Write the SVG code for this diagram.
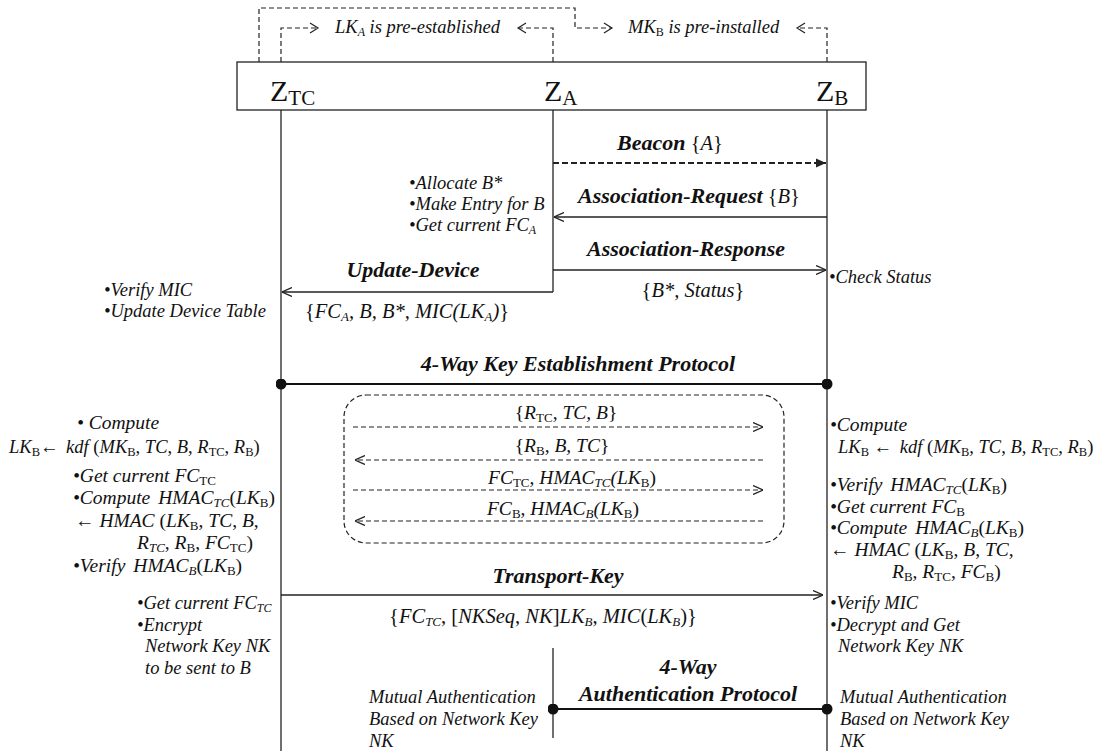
<svg xmlns="http://www.w3.org/2000/svg" width="1099" height="751" viewBox="0 0 1099 751">
<style>
text{font-family:"Liberation Serif","Times New Roman",serif;fill:#111}
.b{font-weight:bold;font-style:italic;font-size:22px}
.i{font-style:italic}
.n{font-style:italic;font-size:18.5px}
.m{font-size:20.5px}
.s{font-size:19.5px}
.k{font-size:18.5px}
.sub{font-style:normal}
.ln{stroke:#222;stroke-width:1.3;fill:none}
.ds{stroke:#222;stroke-width:1.2;fill:none;stroke-dasharray:5,3}
</style>
<defs>
<marker id="open" viewBox="0 0 10 10" refX="10" refY="5" markerWidth="10" markerHeight="10" markerUnits="userSpaceOnUse" orient="auto-start-reverse">
<path d="M0,0.5 L10,5 L0,9.5" fill="none" stroke="#222" stroke-width="1.3"/>
</marker>
<marker id="filled" viewBox="0 0 10 10" refX="10" refY="5" markerWidth="12" markerHeight="10" markerUnits="userSpaceOnUse" orient="auto">
<path d="M0,0.5 L10,5 L0,9.5 Z" fill="#222"/>
</marker>
<marker id="dot" viewBox="0 0 10 10" refX="5" refY="5" markerWidth="11" markerHeight="11" markerUnits="userSpaceOnUse">
<circle cx="5" cy="5" r="5" fill="#111"/>
</marker>
</defs>

<g id="preestablished">
<path class="ds" d="M259,62 V8 H575 V28 H612"/>
<path class="ds" d="M281,62 V28 H318"/>
<path class="ds" d="M553,62 V28 H518"/>
<path class="ds" d="M827,62 V28 H797"/>
<path d="M310,23 L318,28 L310,33 M526,23 L518,28 L526,33 M604,23 L612,28 L604,33 M805,23 L797,28 L805,33" fill="none" stroke="#222" stroke-width="1.2"/>
<text x="335" y="33" class="n">LK<tspan font-size="12" dy="3">A</tspan><tspan dy="-3"> is pre-established</tspan></text>
<text x="628" y="33" class="n">MK<tspan font-size="12" dy="3" class="sub">B</tspan><tspan dy="-3"> is pre-installed</tspan></text>
</g>

<g id="header">
<rect x="237" y="62" width="629" height="48" fill="#fff" stroke="#222" stroke-width="1.3"/>
<text x="270" y="101" font-size="30">Z<tspan font-size="21" dy="4">TC</tspan></text>
<text x="544" y="101" font-size="30">Z<tspan font-size="21" dy="4">A</tspan></text>
<text x="816" y="101" font-size="30">Z<tspan font-size="21" dy="4">B</tspan></text>
</g>

<g id="lifelines">
<line class="ln" x1="281" y1="110" x2="281" y2="751"/>
<line class="ln" x1="553" y1="110" x2="553" y2="292"/>
<line class="ln" x1="553" y1="648" x2="553" y2="738"/>
<line class="ln" x1="827" y1="110" x2="827" y2="751"/>
</g>

<g id="connectors">
<line x1="553" y1="163" x2="826" y2="163" stroke="#222" stroke-width="2" stroke-dasharray="6,3" marker-end="url(#filled)"/>
<line class="ln" x1="827" y1="217" x2="554" y2="217" marker-end="url(#open)"/>
<line class="ln" x1="553" y1="270" x2="826" y2="270" marker-end="url(#open)"/>
<line class="ln" x1="553" y1="292" x2="282" y2="292" marker-end="url(#open)"/>
<line x1="281" y1="384" x2="827" y2="384" stroke="#111" stroke-width="2.2" marker-start="url(#dot)" marker-end="url(#dot)"/>
<line class="ds" x1="353" y1="427" x2="763" y2="427" marker-end="url(#open)"/>
<line class="ds" x1="763" y1="460" x2="355" y2="460" marker-end="url(#open)"/>
<line class="ds" x1="353" y1="490" x2="763" y2="490" marker-end="url(#open)"/>
<line class="ds" x1="763" y1="521" x2="355" y2="521" marker-end="url(#open)"/>
<line class="ln" x1="281" y1="595" x2="823" y2="595" marker-end="url(#open)"/>
<line x1="553" y1="709" x2="827" y2="709" stroke="#111" stroke-width="2.2" marker-start="url(#dot)" marker-end="url(#dot)"/>
</g>

<g id="kex-box">
<rect x="344" y="395" width="440" height="148" rx="22" class="ds"/>
</g>

<g id="beacon">
<text x="670" y="150" text-anchor="middle"><tspan class="b">Beacon</tspan><tspan class="m"> {<tspan class="i">A</tspan>}</tspan></text>
</g>
<g id="assoc-req">
<text x="689" y="203" text-anchor="middle"><tspan class="b">Association-Request</tspan><tspan class="m"> {<tspan class="i">B</tspan>}</tspan></text>
</g>
<g id="assoc-resp">
<text x="686" y="256" text-anchor="middle" class="b">Association-Response</text>
<text x="693" y="297" text-anchor="middle" class="m">{<tspan class="i">B*, Status</tspan>}</text>
</g>
<g id="update-device">
<text x="413" y="277" text-anchor="middle" class="b">Update-Device</text>
<text x="407" y="318" text-anchor="middle" class="m">{<tspan class="i">FC<tspan font-size="13" dy="3">A</tspan><tspan dy="-3">, B, B*, MIC(LK</tspan><tspan font-size="13" dy="3">A</tspan><tspan dy="-3">)</tspan></tspan>}</text>
</g>
<g id="za-notes">
<text x="409" y="189" class="n">•Allocate B*</text>
<text x="409" y="210" class="n">•Make Entry for B</text>
<text x="409" y="231" class="n">•Get current FC<tspan font-size="12" dy="3">A</tspan></text>
</g>
<g id="ztc-notes1">
<text x="104" y="296" class="n">•Verify MIC</text>
<text x="104" y="317" class="n">•Update Device Table</text>
</g>
<g id="zb-notes1">
<text x="829" y="283" class="n">•Check Status</text>
</g>

<g id="kex-label">
<text x="578" y="371" text-anchor="middle" class="b">4-Way Key Establishment Protocol</text>
</g>

<g id="kex-messages">
<text x="566" y="419" text-anchor="middle" class="s">{<tspan class="i">R</tspan><tspan font-size="13" dy="3">TC</tspan><tspan dy="-3">, </tspan><tspan class="i">TC, B</tspan>}</text>
<text x="562" y="452" text-anchor="middle" class="s">{<tspan class="i">R</tspan><tspan font-size="13" dy="3">B</tspan><tspan dy="-3">, </tspan><tspan class="i">B, TC</tspan>}</text>
<text x="572" y="484" text-anchor="middle" class="s"><tspan class="i">FC</tspan><tspan font-size="13" dy="3">TC</tspan><tspan dy="-3">, </tspan><tspan class="i">HMAC</tspan><tspan font-size="13" dy="3" class="i">TC</tspan><tspan dy="-3" class="i">(LK</tspan><tspan font-size="13" dy="3">B</tspan><tspan dy="-3">)</tspan></text>
<text x="563" y="515" text-anchor="middle" class="s"><tspan class="i">FC</tspan><tspan font-size="13" dy="3">B</tspan><tspan dy="-3">, </tspan><tspan class="i">HMAC</tspan><tspan font-size="13" dy="3" class="i">B</tspan><tspan dy="-3" class="i">(LK</tspan><tspan font-size="13" dy="3">B</tspan><tspan dy="-3">)</tspan></text>
</g>

<g id="ztc-notes2">
<text x="77" y="429" class="s i">• Compute</text>
<text x="9" y="453" class="k"><tspan class="i">LK</tspan><tspan font-size="12.5" dy="3">B</tspan><tspan dy="-3">← </tspan><tspan class="i" dx="3">kdf</tspan> (<tspan class="i">MK</tspan><tspan font-size="12.5" dy="3">B</tspan><tspan dy="-3">, </tspan><tspan class="i">TC</tspan>, <tspan class="i">B</tspan>, <tspan class="i">R</tspan><tspan font-size="12.5" dy="3">TC</tspan><tspan dy="-3">, </tspan><tspan class="i">R</tspan><tspan font-size="12.5" dy="3">B</tspan><tspan dy="-3">)</tspan></text>
<text x="73" y="482" class="s i">•Get current FC<tspan font-size="13" dy="3" class="sub">TC</tspan></text>
<text x="73" y="504" class="s"><tspan class="i">•Compute</tspan><tspan class="i" dx="8">HMAC</tspan><tspan font-size="13" dy="3" class="i">TC</tspan><tspan dy="-3">(</tspan><tspan class="i">LK</tspan><tspan font-size="13" dy="3">B</tspan><tspan dy="-3">)</tspan></text>
<text x="75" y="527" class="s">← <tspan class="i">HMAC</tspan> (<tspan class="i">LK</tspan><tspan font-size="13" dy="3">B</tspan><tspan dy="-3">, </tspan><tspan class="i">TC</tspan>, <tspan class="i">B</tspan>,</text>
<text x="137" y="549" class="s"><tspan class="i">R</tspan><tspan font-size="13" dy="3" class="i">TC</tspan><tspan dy="-3">, </tspan><tspan class="i">R</tspan><tspan font-size="13" dy="3">B</tspan><tspan dy="-3">, </tspan><tspan class="i">FC</tspan><tspan font-size="13" dy="3">TC</tspan><tspan dy="-3">)</tspan></text>
<text x="73" y="572" class="s"><tspan class="i">•Verify</tspan><tspan class="i" dx="8">HMAC</tspan><tspan font-size="13" dy="3" class="i">B</tspan><tspan dy="-3">(</tspan><tspan class="i">LK</tspan><tspan font-size="13" dy="3">B</tspan><tspan dy="-3">)</tspan></text>
</g>

<g id="zb-notes2">
<text x="830" y="431" class="s i">•Compute</text>
<text x="838" y="453" class="k"><tspan class="i">LK</tspan><tspan font-size="12.5" dy="3">B</tspan><tspan dy="-3"> ← </tspan><tspan class="i" dx="3">kdf</tspan> (<tspan class="i">MK</tspan><tspan font-size="12.5" dy="3">B</tspan><tspan dy="-3">, </tspan><tspan class="i">TC</tspan>, <tspan class="i">B</tspan>, <tspan class="i">R</tspan><tspan font-size="12.5" dy="3">TC</tspan><tspan dy="-3">, </tspan><tspan class="i">R</tspan><tspan font-size="12.5" dy="3">B</tspan><tspan dy="-3">)</tspan></text>
<text x="830" y="491" class="s"><tspan class="i">•Verify</tspan><tspan class="i" dx="8">HMAC</tspan><tspan font-size="13" dy="3" class="i">TC</tspan><tspan dy="-3">(</tspan><tspan class="i">LK</tspan><tspan font-size="13" dy="3">B</tspan><tspan dy="-3">)</tspan></text>
<text x="830" y="513" class="s i">•Get current FC<tspan font-size="13" dy="3" class="sub">B</tspan></text>
<text x="830" y="534" class="s"><tspan class="i">•Compute</tspan><tspan class="i" dx="8">HMAC</tspan><tspan font-size="13" dy="3" class="i">B</tspan><tspan dy="-3">(</tspan><tspan class="i">LK</tspan><tspan font-size="13" dy="3">B</tspan><tspan dy="-3">)</tspan></text>
<text x="830" y="556" class="s">← <tspan class="i">HMAC</tspan> (<tspan class="i">LK</tspan><tspan font-size="13" dy="3">B</tspan><tspan dy="-3">, </tspan><tspan class="i">B</tspan>, <tspan class="i">TC</tspan>,</text>
<text x="892" y="578" class="s"><tspan class="i">R</tspan><tspan font-size="13" dy="3">B</tspan><tspan dy="-3">, </tspan><tspan class="i">R</tspan><tspan font-size="13" dy="3">TC</tspan><tspan dy="-3">, </tspan><tspan class="i">FC</tspan><tspan font-size="13" dy="3">B</tspan><tspan dy="-3">)</tspan></text>
</g>

<g id="transport-key">
<text x="558" y="583" text-anchor="middle" class="b">Transport-Key</text>
<text x="543" y="623" text-anchor="middle" class="m">{<tspan class="i">FC</tspan><tspan font-size="13" dy="3" class="i">TC</tspan><tspan dy="-3">, [</tspan><tspan class="i">NKSeq</tspan>, <tspan class="i">NK</tspan>]<tspan class="i">LK</tspan><tspan font-size="13" dy="3" class="i">B</tspan><tspan dy="-3">, </tspan><tspan class="i">MIC</tspan>(<tspan class="i">LK</tspan><tspan font-size="13" dy="3" class="i">B</tspan><tspan dy="-3">)}</tspan></text>
</g>
<g id="ztc-notes3">
<text x="137" y="609" class="n">•Get current FC<tspan font-size="12" dy="3">TC</tspan></text>
<text x="137" y="631" class="n">•Encrypt</text>
<text x="145" y="652" class="n">Network Key NK</text>
<text x="145" y="674" class="n">to be sent to B</text>
</g>
<g id="zb-notes3">
<text x="830" y="609" class="n">•Verify MIC</text>
<text x="830" y="631" class="n">•Decrypt and Get</text>
<text x="838" y="652" class="n">Network Key NK</text>
</g>

<g id="auth-protocol">
<text x="688" y="674" text-anchor="middle" class="b">4-Way</text>
<text x="688" y="701" text-anchor="middle" class="b">Authentication Protocol</text>
</g>
<g id="za-auth-notes">
<text x="369" y="703" class="n">Mutual Authentication</text>
<text x="369" y="725" class="n">Based on Network Key</text>
<text x="369" y="747" class="n">NK</text>
</g>
<g id="zb-auth-notes">
<text x="840" y="703" class="n">Mutual Authentication</text>
<text x="840" y="725" class="n">Based on Network Key</text>
<text x="840" y="747" class="n">NK</text>
</g>
</svg>
